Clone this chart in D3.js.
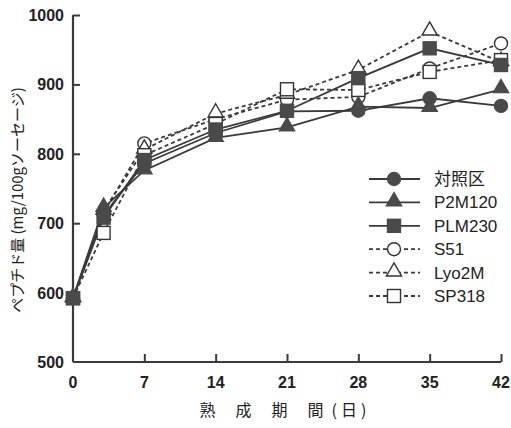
<!DOCTYPE html>
<html>
<head>
<meta charset="utf-8">
<script src="https://cdn.jsdelivr.net/npm/d3@7/dist/d3.min.js"></script>
<style>
  body { margin: 0; background: #fff; }
  svg { display: block; }
</style>
</head>
<body>
<script>
// days sampled
const days = [0, 3, 7, 14, 21, 28, 35, 42];
const xTicks = [0, 7, 14, 21, 28, 35, 42];
const yTicks = [500, 600, 700, 800, 900, 1000];

const seriesNames = ["対照区", "P2M120", "PLM230", "S51", "Lyo2M", "SP318"];
const control = [592, 712, 786, 830, 861, 862, 880, 869];
const p2m120  = [592, 722, 776, 823, 838, 868, 866, 893];
const plm230  = [592, 708, 791, 835, 862, 909, 952, 928];
const s51     = [592, 715, 815, 850, 878, 882, 923, 959];
const lyo2m   = [592, 718, 806, 858, 885, 921, 976, 932];
const sp318   = [592, 686, 798, 843, 893, 892, 918, 935];

const allValues = [control, p2m120, plm230, s51, lyo2m, sp318];
const shapes = ["circle", "triangle", "square", "circle", "triangle", "square"];
const filled = [true, true, true, false, false, false];

const width = 511, height = 428;
const margin = {top: 15, right: 10, bottom: 66, left: 73};

const svg = d3.select("body").append("svg")
  .attr("width", width)
  .attr("height", height);

const x = d3.scaleLinear().domain([0, 42]).range([margin.left, width - margin.right]);
const y = d3.scaleLinear().domain([500, 1000]).range([height - margin.bottom, margin.top]);

const ink = "#3a3a3a";
const tickFont = "bold 16px 'Liberation Sans', Arial, sans-serif";

// y axis
const yAxis = svg.append("g")
  .attr("transform", "translate(" + margin.left + ",0)")
  .call(d3.axisRight(y).tickValues(yTicks).tickSize(7).tickFormat(""));
yAxis.select(".domain").attr("stroke", ink).attr("stroke-width", 2.2)
  .attr("d", "M0," + y(1000) + "V" + y(500));
yAxis.selectAll(".tick line").attr("stroke", ink).attr("stroke-width", 2);
yAxis.selectAll(".tick").filter(d => d === 500).remove();

yTicks.forEach(function(t) {
  svg.append("text")
    .attr("x", margin.left - 9)
    .attr("y", y(t) + 6)
    .attr("text-anchor", "end")
    .style("font", tickFont)
    .attr("fill", "#222")
    .text(t);
});

// x axis
const xAxis = svg.append("g")
  .attr("transform", "translate(0," + y(500) + ")")
  .call(d3.axisTop(x).tickValues(xTicks).tickSize(8).tickFormat(""));
xAxis.select(".domain").attr("stroke", ink).attr("stroke-width", 2.2)
  .attr("d", "M" + x(0) + ",0H" + x(42));
xAxis.selectAll(".tick line").attr("stroke", ink).attr("stroke-width", 2);
xAxis.selectAll(".tick").filter(d => d === 0).remove();

xTicks.forEach(function(t) {
  svg.append("text")
    .attr("x", x(t))
    .attr("y", y(500) + 26)
    .attr("text-anchor", "middle")
    .style("font", tickFont)
    .attr("fill", "#222")
    .text(t);
});

// axis titles
const xt = svg.append("text")
  .attr("x", 285)
  .attr("y", 416)
  .attr("text-anchor", "middle")
  .style("font", "16px 'Noto Sans CJK JP', sans-serif")
  .attr("fill", "#222");
xt.append("tspan").style("letter-spacing", "20px").text("熟成期");
xt.append("tspan").style("letter-spacing", "8px").text("間");
xt.append("tspan").style("letter-spacing", "4px").text("(日)");

svg.append("text")
  .attr("transform", "translate(23,200) rotate(-90)")
  .attr("text-anchor", "middle")
  .style("font", "15px 'Noto Sans CJK JP', sans-serif")
  .attr("fill", "#222")
  .text("ペプチド量 (mg/100gソーセージ)");

// marker drawing
function marker(g, shape, isFilled, cx, cy) {
  let m;
  if (shape === "circle") {
    m = g.append("circle").attr("cx", cx).attr("cy", cy).attr("r", 6.5);
  } else if (shape === "square") {
    m = g.append("rect").attr("x", cx - 6.5).attr("y", cy - 6.5).attr("width", 13).attr("height", 13);
  } else {
    m = g.append("path").attr("d", d3.symbol(d3.symbolTriangle, 100)()).attr("transform", "translate(" + cx + "," + (cy - 1) + ")");
  }
  m.attr("fill", isFilled ? "#4a4a4a" : "#fff")
   .attr("stroke", isFilled ? "#4a4a4a" : "#333")
   .attr("stroke-width", 1.4);
}

const line = d3.line()
  .x((d, i) => x(days[i]))
  .y(d => y(d));

// dashed (open) series first, filled ones on top
const order = [3, 4, 5, 0, 1, 2];
order.forEach(function(s) {
  svg.append("path")
    .datum(allValues[s])
    .attr("d", line)
    .attr("fill", "none")
    .attr("stroke", ink)
    .attr("stroke-width", 1.8)
    .attr("stroke-dasharray", filled[s] ? null : "4,3");
});
order.forEach(function(s) {
  const g = svg.append("g");
  allValues[s].forEach(function(v, i) {
    marker(g, shapes[s], filled[s], x(days[i]), y(v));
  });
});

// legend
const legend = svg.append("g");
seriesNames.forEach(function(name, i) {
  const ly = 179 + i * 23.4;
  legend.append("line")
    .attr("x1", 369).attr("x2", 420)
    .attr("y1", ly).attr("y2", ly)
    .attr("stroke", ink)
    .attr("stroke-width", 1.8)
    .attr("stroke-dasharray", filled[i] ? null : "4,3");
  marker(legend, shapes[i], filled[i], 394, ly);
  legend.append("text")
    .attr("x", 434)
    .attr("y", ly + 6)
    .style("font", i === 0 ? "17px 'Noto Sans CJK JP', sans-serif" : "17px 'Liberation Sans', Arial, sans-serif")
    .attr("fill", "#222")
    .text(name);
});
</script>
</body>
</html>
